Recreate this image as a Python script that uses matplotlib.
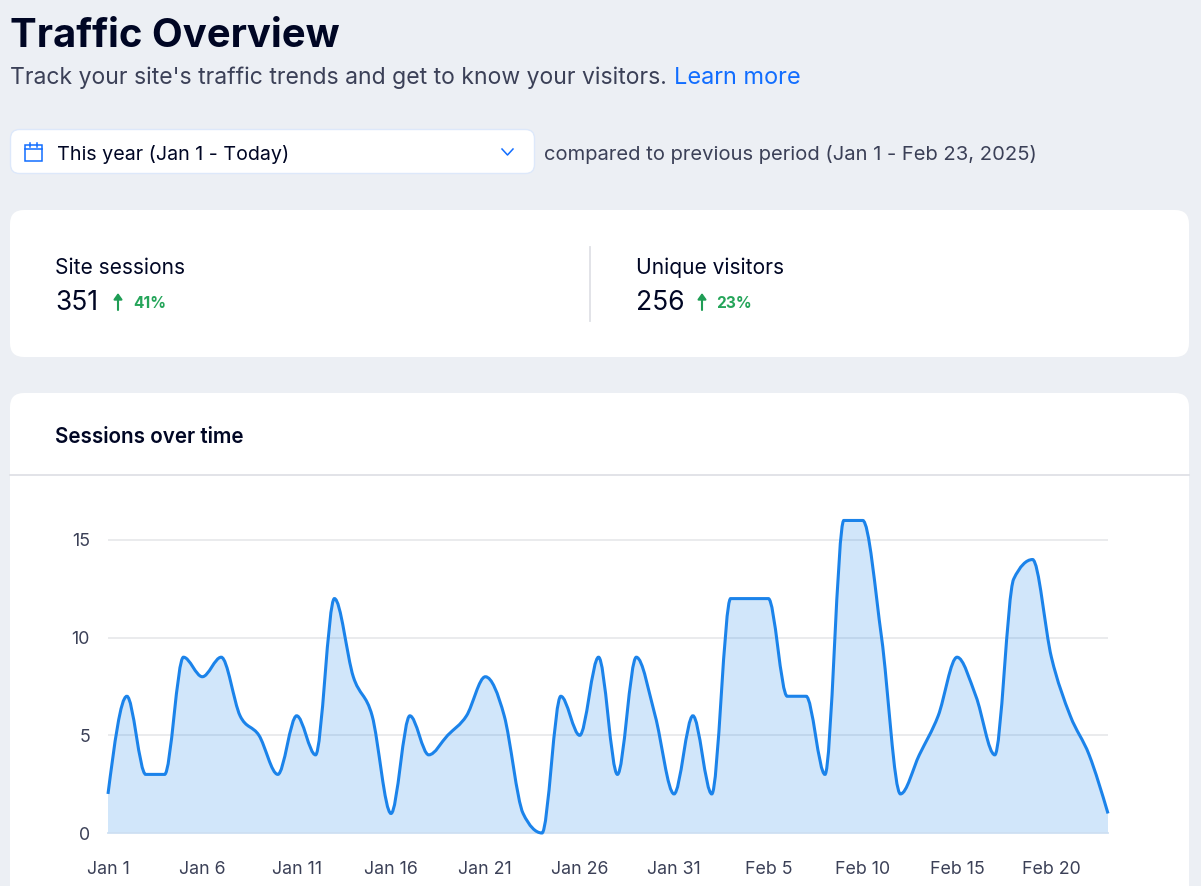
import matplotlib
matplotlib.use("Agg")
import matplotlib.pyplot as plt
import numpy as np
from matplotlib.patches import FancyBboxPatch, PathPatch, Rectangle
from matplotlib.path import Path

W, H = 1201, 886
plt.rcParams['font.family'] = ['Inter', 'DejaVu Sans']

# ---- data ----
days = [f"Jan {d}" for d in range(1, 32)] + [f"Feb {d}" for d in range(1, 24)]
sessions = [2, 7, 3, 3, 9, 8, 9, 6, 5, 3, 6, 4, 12, 8, 6, 1, 6, 4, 5, 6, 8, 6, 1, 0, 7, 5, 9, 3, 9, 6, 2,
            6, 2, 12, 12, 12, 7, 7, 3, 16, 16, 10, 2, 4, 6, 9, 7, 4, 13, 14, 9, 6, 4, 1]
x_tick_every = 5
y_ticks = [0, 5, 10, 15]
title = "Traffic Overview"
subtitle = "Track your site's traffic trends and get to know your visitors."
link = "Learn more"
period = "This year (Jan 1 - Today)"
compare = "compared to previous period (Jan 1 - Feb 23, 2025)"
kpi_names = ["Site sessions", "Unique visitors"]
kpi_values = ["351", "256"]
kpi_changes = ["41%", "23%"]
card_title = "Sessions over time"

BG = "#ECEFF4"; INK = "#000624"; SUB = "#3B4057"; BLUE = "#116DFF"
GREEN = "#25A55A"; LINE = "#1B83EA"; GRID = "#E8E9EC"; DIV = "#DFE1E6"; TICK = "#3B4057"


def px(size):
    return size * 0.72


def monotone_path(xs, ys):
    """Cubic Bezier path through the values (monotone-x curve)."""
    xs = np.asarray(xs, float); ys = np.asarray(ys, float)
    h = np.diff(xs); s = np.diff(ys) / h
    t = np.zeros_like(ys)
    for i in range(1, len(ys) - 1):
        p = (s[i - 1] * h[i] + s[i] * h[i - 1]) / (h[i - 1] + h[i])
        t[i] = (np.sign(s[i - 1]) + np.sign(s[i])) * min(abs(s[i - 1]), abs(s[i]), 0.5 * abs(p))
    t[0] = (3 * s[0] - t[1]) / 2
    t[-1] = (3 * s[-1] - t[-2]) / 2
    verts = [(xs[0], ys[0])]; codes = [Path.MOVETO]
    for i in range(len(h)):
        d = h[i] / 3
        verts += [(xs[i] + d, ys[i] + d * t[i]), (xs[i + 1] - d, ys[i + 1] - d * t[i + 1]), (xs[i + 1], ys[i + 1])]
        codes += [Path.CURVE4] * 3
    return verts, codes


fig = plt.figure(figsize=(W / 100, H / 100), dpi=100, facecolor=BG)
ui = fig.add_axes([0, 0, 1, 1])
ui.set_xlim(0, W); ui.set_ylim(H, 0); ui.axis("off")


def card(x0, y0, x1, y1, r, fc="white", ec="none", lw=0):
    ui.add_patch(FancyBboxPatch((x0 + r, y0 + r), x1 - x0 - 2 * r, y1 - y0 - 2 * r,
                                boxstyle=f"round,pad={r},rounding_size={r}", fc=fc, ec=ec, lw=lw))


# header
ui.text(10, 32, title, fontsize=px(40), fontweight="bold", color=INK, va="center_baseline")
ui.text(10, 75, subtitle, fontsize=px(23), color=SUB, va="center_baseline")
ui.text(674, 75, link, fontsize=px(23.5), color=BLUE, va="center_baseline")

# period picker
card(10.5, 129.5, 534.5, 173.5, 9, ec="#DDE8FA", lw=1)
ui.add_patch(Rectangle((25, 144.5), 16.5, 16, fc="none", ec=BLUE, lw=1.1))
ui.plot([25, 41.5], [149, 149], color=BLUE, lw=1.1)
ui.plot([29.5, 29.5], [142.5, 146.5], color=BLUE, lw=1.1)
ui.plot([37, 37], [142.5, 146.5], color=BLUE, lw=1.1)
ui.plot([502, 507.5, 513], [149, 155, 149], color=BLUE, lw=1.1)
ui.text(57, 152, period, fontsize=px(19.7), color=INK, va="center_baseline")
ui.text(544, 152, compare, fontsize=px(20.2), color=SUB, va="center_baseline")

# KPI card
card(10, 210, 1189, 357, 14)
ui.plot([590, 590], [247, 321], color=DIV, lw=1.3)
kx = [55, 636]
arrow_x = [118, 702]
change_x = [133, 716]
for i in range(2):
    ui.text(kx[i], 265.5, kpi_names[i], fontsize=px(21), color=INK, va="center_baseline")
    ui.text(kx[i], 300, kpi_values[i], fontsize=px(26.5), color=INK, va="center_baseline")
    ui.annotate("", xy=(arrow_x[i], 293), xytext=(arrow_x[i], 310),
                arrowprops=dict(arrowstyle="-|>,head_width=0.25,head_length=0.35", color="#1F9D55", lw=1.5, shrinkA=0, shrinkB=0))
    ui.text(change_x[i], 301.5, kpi_changes[i], fontsize=px(15.5), fontweight="bold", color=GREEN, va="center_baseline")

# chart card
card(10, 393, 1189, 920, 14)
ui.plot([10, 1189], [475, 475], color=DIV, lw=1.3)
ui.text(55, 434.5, card_title, fontsize=px(20.6), fontweight="semibold", color=INK, va="center_baseline")

# chart axes: x 108..1108 px, y 0 at 833, 15 at 540
y_top = 505
ax = fig.add_axes([108 / W, 1 - 833 / H, 1000 / W, (833 - y_top) / H])
ax.patch.set_alpha(0)
n = len(sessions)
xvals = np.arange(n)
ax.set_xlim(0, n - 1)
ax.set_ylim(0, 15 * (833 - y_top) / (833 - 540))
for s in ax.spines.values():
    s.set_visible(False)
ax.set_yticks(y_ticks)
ax.set_xticks(xvals[::x_tick_every])
ax.set_xticklabels(days[::x_tick_every])
ax.tick_params(length=0, labelcolor=TICK, labelsize=px(17.8))
ax.tick_params(axis="x", pad=px(28))
ax.tick_params(axis="y", pad=px(18))
ax.grid(axis="y", color=GRID, lw=1.3, zorder=0)
ax.set_axisbelow(True)
ax.axhline(0, color="#CFE1F3", lw=1.3, clip_on=False, zorder=4)

verts, codes = monotone_path(xvals, sessions)
area_verts = verts + [(xvals[-1], 0), (xvals[0], 0), verts[0]]
area_codes = codes + [Path.LINETO, Path.LINETO, Path.CLOSEPOLY]
ax.add_patch(PathPatch(Path(area_verts, area_codes), fc=LINE, alpha=0.2, ec="none", zorder=2, clip_on=False))
ax.add_patch(PathPatch(Path(verts, codes), fc="none", ec=LINE, lw=2.2, capstyle="butt", zorder=5, clip_on=False))

fig.savefig("out.png", dpi=100, facecolor=BG)
